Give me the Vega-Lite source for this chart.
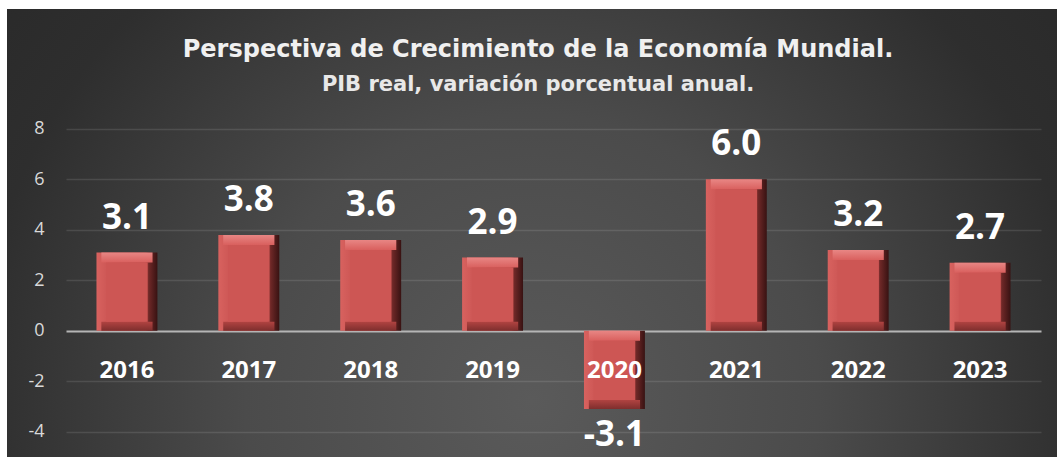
{
  "$schema": "https://vega.github.io/schema/vega-lite/v6.json",
  "width": 1050,
  "height": 448,
  "autosize": {"type": "none"},
  "padding": {"left": 7, "top": 9, "right": 0, "bottom": 0},
  "background": "#ffffff",
  "config": {
    "locale": {
      "number": {"decimal": ".", "thousands": ",", "grouping": [3], "currency": ["$", ""], "minus": "-"}
    }
  },
  "view": {
    "stroke": null,
    "fill": {
      "gradient": "radial",
      "x1": 0.5, "y1": 0.66, "r1": 0,
      "x2": 0.5, "y2": 0.66, "r2": 0.78,
      "stops": [
        {"offset": 0, "color": "#5a5a5a"},
        {"offset": 0.35, "color": "#4b4b4b"},
        {"offset": 0.68, "color": "#2e2e2e"},
        {"offset": 1, "color": "#252525"}
      ]
    }
  },
  "title": {
    "text": "Perspectiva de Crecimiento de la Economía Mundial.",
    "subtitle": "PIB real, variación porcentual anual.",
    "anchor": "middle",
    "frame": "group",
    "offset": -86,
    "dx": 6,
    "font": "DejaVu Sans",
    "fontSize": 24,
    "fontWeight": "bold",
    "color": "#f0f0f0",
    "subtitleFont": "DejaVu Sans",
    "subtitleFontSize": 21,
    "subtitleFontWeight": "bold",
    "subtitleColor": "#e8e8e8",
    "subtitlePadding": 12
  },
  "data": {
    "values": [
      {"year": "2016", "value": 3.1},
      {"year": "2017", "value": 3.8},
      {"year": "2018", "value": 3.6},
      {"year": "2019", "value": 2.9},
      {"year": "2020", "value": -3.1},
      {"year": "2021", "value": 6.0},
      {"year": "2022", "value": 3.2},
      {"year": "2023", "value": 2.7}
    ]
  },
  "encoding": {
    "x": {
      "field": "year",
      "type": "nominal",
      "sort": null,
      "axis": null,
      "scale": {"range": [59, 1034], "paddingInner": 0.5, "paddingOuter": 0.25}
    }
  },
  "layer": [
    {
      "mark": {
        "type": "bar",
        "fill": {
          "gradient": "linear", "x1": 0, "y1": 0, "x2": 1, "y2": 0,
          "stops": [
            {"offset": 0, "color": "#d8625f"},
            {"offset": 0.15, "color": "#cf5957"},
            {"offset": 0.8, "color": "#b84846"},
            {"offset": 0.86, "color": "#6e2827"},
            {"offset": 1, "color": "#381212"}
          ]
        }
      },
      "encoding": {
        "y": {
          "field": "value",
          "type": "quantitative",
          "scale": {"domain": [-5, 12.75], "nice": false, "zero": false},
          "axis": {
            "title": null,
            "values": [-4, -2, 0, 2, 4, 6, 8],
            "domain": false,
            "ticks": false,
            "offset": -59,
            "labelPadding": 22,
            "labelFont": "Open Sans",
            "labelFontSize": 18,
            "labelColor": "#d9d9d9",
            "grid": true,
            "gridColor": {"condition": {"test": "datum.value === 0", "value": "#b5b5b5"}, "value": "rgba(255,255,255,0.11)"},
            "gridWidth": {"condition": {"test": "datum.value === 0", "value": 2}, "value": 1.3}
          }
        },
        "y2": {"datum": 0}
      }
    },
    {
      "transform": [{"filter": "datum.value >= 0"}],
      "mark": {"type": "bar", "width": {"band": 0.84}, "y2Offset": 10, "fill": {
        "gradient": "linear", "x1": 0, "y1": 0, "x2": 0, "y2": 1,
        "stops": [{"offset": 0, "color": "#e88684"}, {"offset": 1, "color": "#d9605e"}]
      }},
      "encoding": {"y": {"field": "value", "type": "quantitative"}, "y2": {"field": "value"}}
    },
    {
      "transform": [{"filter": "datum.value < 0"}],
      "mark": {"type": "bar", "width": {"band": 0.84}, "y2Offset": 10, "fill": {
        "gradient": "linear", "x1": 0, "y1": 0, "x2": 0, "y2": 1,
        "stops": [{"offset": 0, "color": "#e88684"}, {"offset": 1, "color": "#d9605e"}]
      }},
      "encoding": {"y": {"datum": 0, "type": "quantitative"}, "y2": {"datum": 0}}
    },
    {
      "transform": [{"filter": "datum.value >= 0"}],
      "mark": {"type": "bar", "width": {"band": 0.84}, "yOffset": -9, "fill": {
        "gradient": "linear", "x1": 0, "y1": 0, "x2": 0, "y2": 1,
        "stops": [{"offset": 0, "color": "#b04341"}, {"offset": 1, "color": "#7e2e2d"}]
      }},
      "encoding": {"y": {"datum": 0, "type": "quantitative"}, "y2": {"datum": 0}}
    },
    {
      "transform": [{"filter": "datum.value < 0"}],
      "mark": {"type": "bar", "width": {"band": 0.84}, "yOffset": -9, "fill": {
        "gradient": "linear", "x1": 0, "y1": 0, "x2": 0, "y2": 1,
        "stops": [{"offset": 0, "color": "#b04341"}, {"offset": 1, "color": "#7e2e2d"}]
      }},
      "encoding": {"y": {"field": "value", "type": "quantitative"}, "y2": {"field": "value"}}
    },
    {
      "transform": [{"filter": "datum.value >= 0"}],
      "mark": {"type": "bar", "width": {"band": 0.68}, "yOffset": 10, "y2Offset": -9, "fill": "#cd5654"},
      "encoding": {"y": {"field": "value", "type": "quantitative"}, "y2": {"datum": 0}}
    },
    {
      "transform": [{"filter": "datum.value < 0"}],
      "mark": {"type": "bar", "width": {"band": 0.68}, "yOffset": -9, "y2Offset": 10, "fill": "#cd5654"},
      "encoding": {"y": {"field": "value", "type": "quantitative"}, "y2": {"datum": 0}}
    },
    {
      "transform": [{"filter": "datum.value >= 0"}],
      "mark": {"type": "text", "font": "Open Sans", "fontSize": 35, "fontWeight": "bold", "color": "#ffffff", "baseline": "alphabetic", "dy": -24},
      "encoding": {
        "y": {"field": "value", "type": "quantitative"},
        "text": {"field": "value", "type": "quantitative", "format": ".1f"}
      }
    },
    {
      "transform": [{"filter": "datum.value < 0"}],
      "mark": {"type": "text", "font": "Open Sans", "fontSize": 35, "fontWeight": "bold", "color": "#ffffff", "baseline": "alphabetic", "dy": 37},
      "encoding": {
        "y": {"field": "value", "type": "quantitative"},
        "text": {"field": "value", "type": "quantitative", "format": ".1f"}
      }
    },
    {
      "mark": {"type": "text", "font": "Open Sans", "fontSize": 24, "fontWeight": "bold", "color": "#ffffff", "baseline": "alphabetic", "dy": 47},
      "encoding": {
        "y": {"datum": 0, "type": "quantitative"},
        "text": {"field": "year", "type": "nominal"}
      }
    }
  ]
}
